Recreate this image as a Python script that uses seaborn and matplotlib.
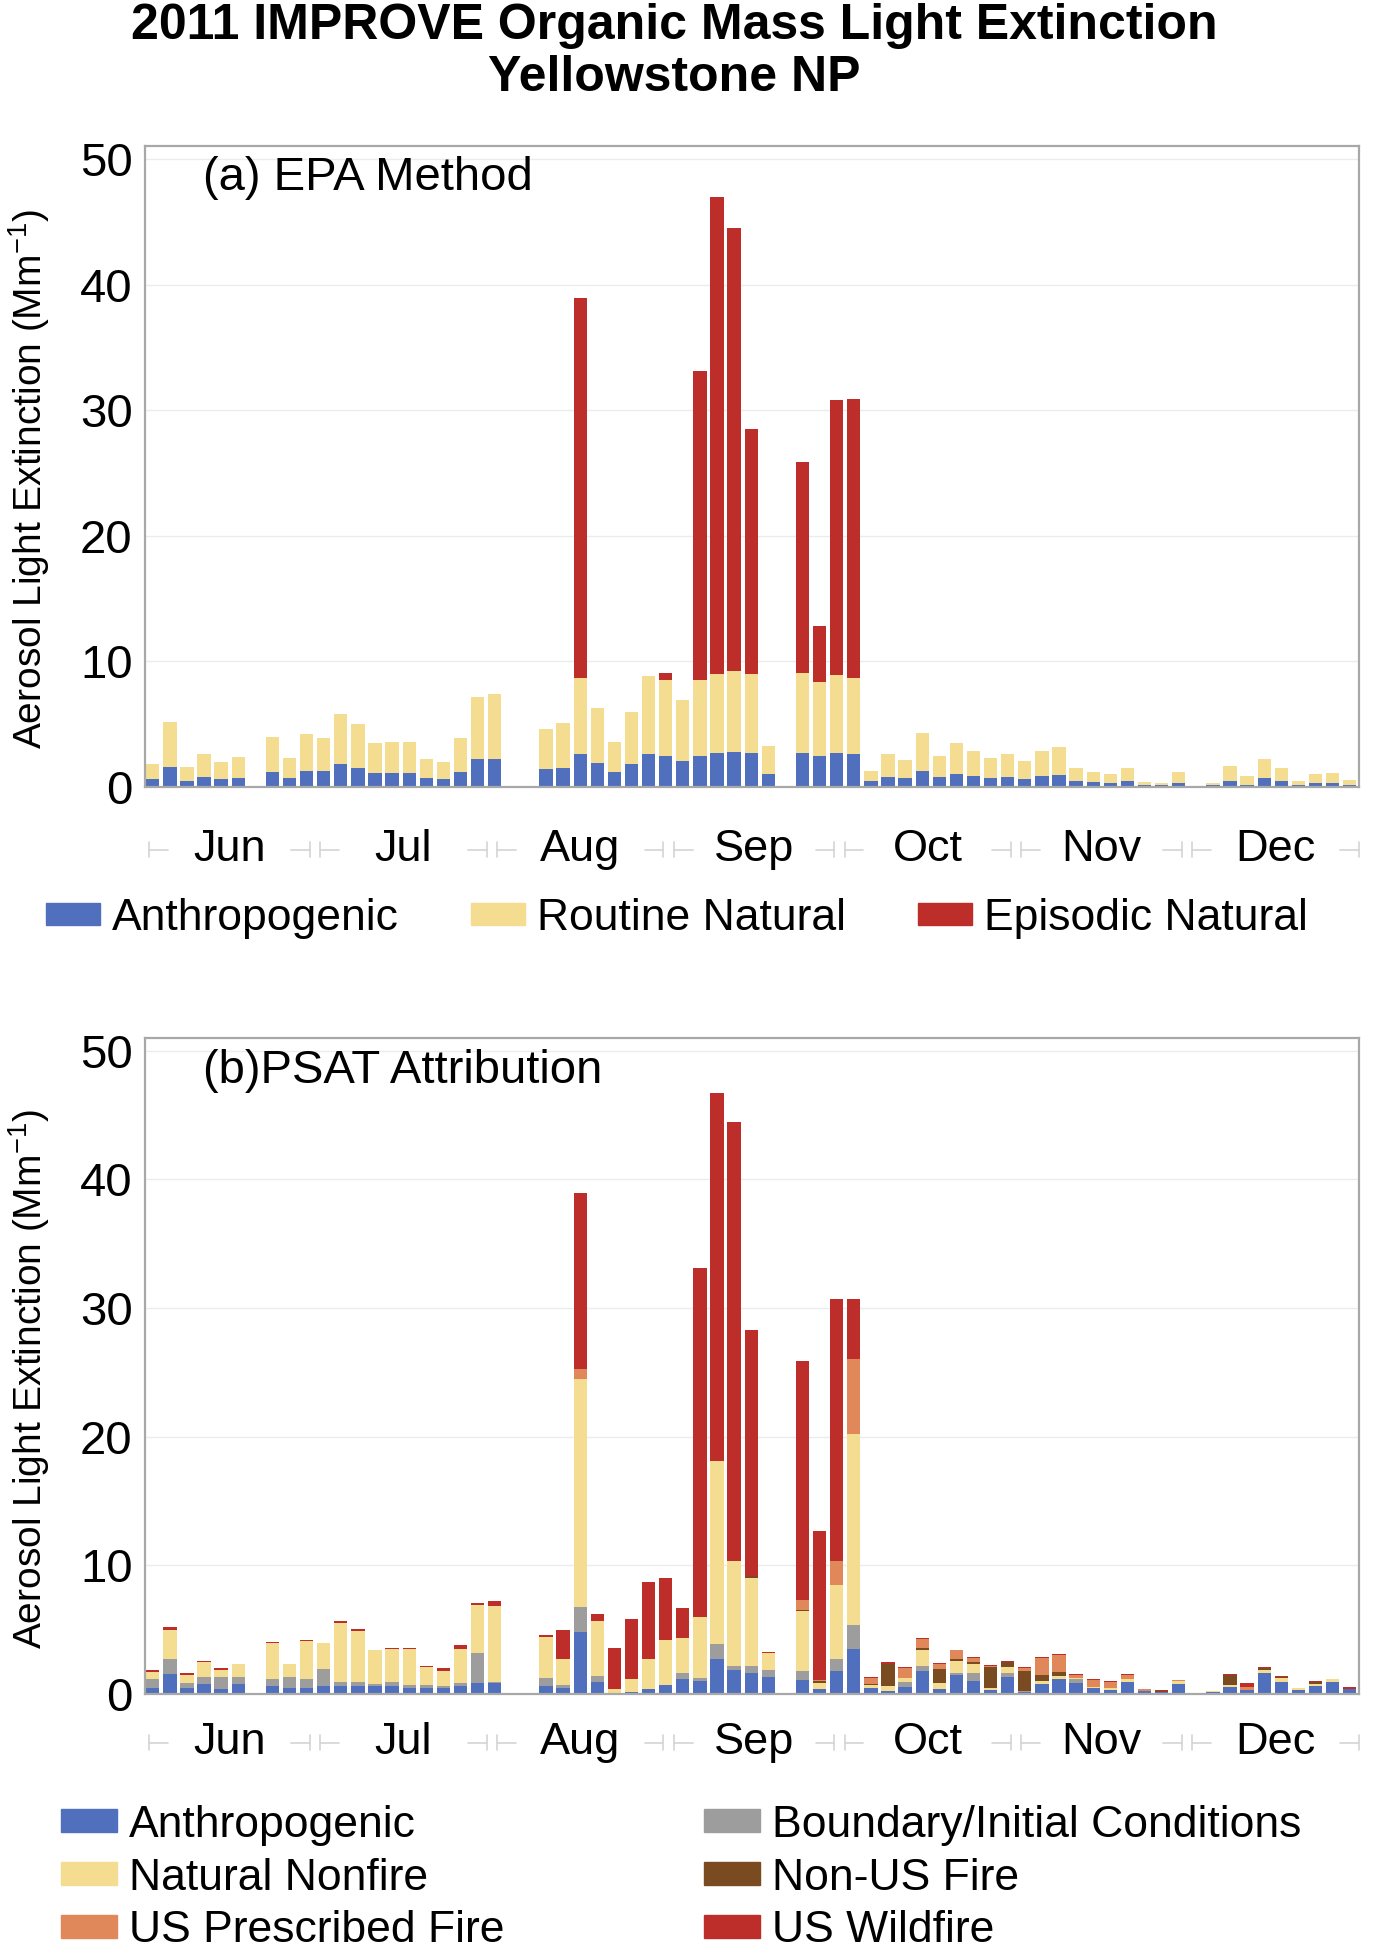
import matplotlib
matplotlib.use("Agg")
import matplotlib.pyplot as plt
import matplotlib.patches as mpatches
import matplotlib.transforms as mtransforms
import pandas as pd
import seaborn as sns

# sample number (every third day from 1 June 2011), gaps = missing samples
sample_slot = [0, 1, 2, 3, 4, 5,
               7, 8, 9, 10, 11, 12, 13, 14, 15, 16, 17, 18, 19, 20,
               23, 24, 25, 26, 27, 28, 29, 30, 31, 32, 33, 34, 35, 36,
               38, 39, 40, 41, 42, 43, 44, 45, 46, 47, 48, 49, 50, 51, 52,
               53, 54, 55, 56, 57, 58, 59, 60,
               62, 63, 64, 65, 66, 67, 68, 69, 70]

months = ["Jun", "Jul", "Aug", "Sep", "Oct", "Nov", "Dec"]
month_days = [30, 31, 31, 30, 31, 30, 31]

# (a) EPA method
epa_anthro = [0.6, 1.6, 0.5, 0.8, 0.6, 0.7,
              1.2, 0.7, 1.3, 1.3, 1.8, 1.5, 1.1, 1.1, 1.1, 0.7, 0.6, 1.2, 2.2, 2.2,
              1.4, 1.5, 2.6, 1.9, 1.2, 1.8, 2.6, 2.5, 2.1, 2.5, 2.7, 2.8, 2.7, 1.0,
              2.7, 2.5, 2.7, 2.6, 0.45, 0.8, 0.7, 1.3, 0.8, 1.0, 0.85, 0.7, 0.8, 0.6, 0.85,
              0.95, 0.5, 0.4, 0.3, 0.5, 0.15, 0.13, 0.3,
              0.15, 0.5, 0.2, 0.7, 0.5, 0.2, 0.3, 0.3, 0.15]
epa_routine = [1.2, 3.6, 1.1, 1.8, 1.4, 1.7,
               2.8, 1.6, 2.9, 2.6, 4.0, 3.5, 2.4, 2.5, 2.5, 1.5, 1.4, 2.7, 5.0, 5.2,
               3.2, 3.6, 6.1, 4.4, 2.4, 4.2, 6.2, 6.0, 4.8, 6.0, 6.3, 6.4, 6.3, 2.3,
               6.4, 5.9, 6.2, 6.1, 0.8, 1.8, 1.45, 3.0, 1.7, 2.5, 2.0, 1.6, 1.85, 1.45, 2.05,
               2.25, 1.05, 0.8, 0.7, 1.0, 0.25, 0.2, 0.9,
               0.2, 1.2, 0.65, 1.5, 1.0, 0.3, 0.7, 0.8, 0.4]
epa_episodic = [0, 0, 0, 0, 0, 0,
                0, 0, 0, 0, 0, 0, 0, 0, 0, 0, 0, 0, 0, 0,
                0, 0, 30.2, 0, 0, 0, 0, 0.6, 0, 24.6, 38.0, 35.3, 19.5, 0,
                16.8, 4.4, 21.9, 22.2, 0, 0, 0, 0, 0, 0, 0, 0, 0, 0, 0,
                0, 0, 0, 0, 0, 0, 0, 0,
                0, 0, 0, 0, 0, 0, 0, 0, 0]

# (b) PSAT attribution
psat_anthro = [0.5, 1.55, 0.5, 0.8, 0.35, 0.8,
               0.63, 0.45, 0.5, 0.63, 0.65, 0.65, 0.65, 0.65, 0.5, 0.5, 0.5, 0.65, 0.85, 0.85,
               0.65, 0.45, 4.8, 0.95, 0.1, 0.15, 0.35, 0.7, 1.2, 1.0, 2.7, 1.85, 1.65, 1.3,
               1.1, 0.35, 1.8, 3.5, 0.47, 0.26, 0.57, 1.82, 0.39, 1.51, 1.04, 0.31, 1.3, 0.13, 0.78,
               1.19, 0.86, 0.44, 0.31, 0.96, 0.21, 0.16, 0.78,
               0.18, 0.52, 0.31, 1.61, 0.91, 0.34, 0.6, 0.96, 0.36]
psat_bic = [0.65, 1.2, 0.35, 0.55, 0.95, 0.5,
            0.5, 0.85, 0.7, 1.3, 0.3, 0.3, 0.1, 0.3, 0.2, 0.2, 0.1, 0.2, 2.3, 0.1,
            0.6, 0.25, 1.95, 0.45, 0, 0, 0, 0, 0.4, 0.25, 1.2, 0.3, 0.5, 0.55,
            0.65, 0, 0.9, 1.85, 0, 0, 0.34, 0.34, 0, 0.15, 0.6, 0, 0.31, 0.07, 0,
            0, 0.28, 0, 0, 0, 0, 0, 0,
            0, 0, 0, 0, 0, 0, 0, 0, 0]
psat_natural = [0.55, 2.25, 0.65, 1.1, 0.6, 1.05,
                2.8, 1.05, 2.9, 2.0, 4.6, 3.95, 2.65, 2.55, 2.8, 1.4, 1.2, 2.65, 3.8, 5.9,
                3.2, 2.0, 17.7, 4.3, 0.25, 1.0, 2.35, 3.5, 2.75, 4.75, 14.2, 8.2, 6.9, 1.35,
                4.7, 0.5, 5.8, 14.9, 0.25, 0.34, 0.31, 1.29, 0.47, 0.94, 0.7, 0.16, 0.52, 0, 0.21,
                0.19, 0.11, 0.13, 0.13, 0.21, 0, 0, 0.21,
                0.08, 0.18, 0, 0.29, 0.31, 0.13, 0.18, 0.21, 0]
psat_nonus = [0, 0, 0, 0, 0, 0,
              0, 0, 0, 0, 0, 0, 0, 0, 0, 0, 0, 0, 0, 0,
              0, 0, 0, 0, 0, 0, 0, 0, 0, 0, 0, 0, 0.15, 0,
              0.1, 0.15, 0, 0, 0.05, 1.74, 0.05, 0.1, 1.09, 0.08, 0.13, 1.61, 0.34, 1.62, 0.52,
              0.31, 0, 0, 0, 0, 0, 0.1, 0,
              0, 0.78, 0, 0.15, 0.13, 0, 0.18, 0, 0]
psat_rx = [0, 0, 0, 0, 0, 0,
           0, 0, 0, 0, 0, 0, 0, 0, 0, 0, 0, 0, 0, 0,
           0, 0, 0.8, 0, 0, 0, 0, 0, 0, 0, 0, 0, 0, 0,
           0.75, 0.1, 1.85, 5.8, 0.45, 0, 0.76, 0.73, 0.39, 0.7, 0.34, 0.12, 0, 0.18, 1.3,
           1.37, 0.26, 0.55, 0.52, 0.31, 0.15, 0, 0.13,
           0, 0, 0.26, 0, 0, 0, 0, 0, 0]
psat_wild = [0.15, 0.17, 0.1, 0.14, 0.14, 0,
             0.1, 0, 0.1, 0, 0.14, 0.14, 0.05, 0.1, 0.1, 0.1, 0.2, 0.3, 0.13, 0.4,
             0.14, 2.3, 13.7, 0.5, 3.25, 4.7, 6.0, 4.85, 2.35, 27.1, 28.6, 34.1, 19.1, 0.1,
             18.55, 11.6, 20.35, 4.65, 0.08, 0.13, 0.05, 0.07, 0.08, 0.07, 0.07, 0.06, 0.13, 0.08, 0.05,
             0.06, 0.05, 0.05, 0.08, 0.05, 0.06, 0.05, 0,
             0, 0.08, 0.26, 0.08, 0.08, 0, 0.08, 0, 0.21]

epa_labels = ["Anthropogenic", "Routine Natural", "Episodic Natural"]
epa_colors = ["#5070bd", "#f4dc90", "#bd2e2a"]
psat_labels = ["Anthropogenic", "Boundary/Initial Conditions", "Natural Nonfire",
               "Non-US Fire", "US Prescribed Fire", "US Wildfire"]
psat_colors = ["#5070bd", "#9d9d9d", "#f4dc90", "#7a4a20", "#e0885a", "#bd2e2a"]


def long_df(series, labels):
    frames = []
    for vals, lab in zip(series, labels):
        frames.append(pd.DataFrame({"slot": sample_slot, "value": vals, "source": lab}))
    return pd.concat(frames, ignore_index=True)


def draw_panel(ax, df, labels, colors, tag, month_y):
    # seaborn stacks the first hue level on top, so feed it reversed
    sns.histplot(data=df, x="slot", weights="value", hue="source",
                 hue_order=labels[::-1], palette=dict(zip(labels, colors)),
                 multiple="stack", discrete=True, shrink=0.78, binrange=(0, 70),
                 linewidth=0, alpha=1, legend=False, ax=ax)
    ax.set_xlim(-0.45, 70.55)
    ax.set_ylim(0, 51)
    ax.set_yticks([0, 10, 20, 30, 40, 50])
    ax.set_xticks([])
    ax.set_xlabel("")
    ax.set_ylabel("Aerosol Light Extinction (Mm$^{-1}$)", fontsize=28)
    ax.yaxis.set_label_coords(-0.077, 0.48)
    ax.tick_params(axis="y", length=6, width=1.2, color="#a8a8a8", labelsize=34, pad=3)
    ax.grid(axis="y", color="#ececec", linewidth=1)
    ax.set_axisbelow(True)
    for sp in ax.spines.values():
        sp.set_visible(True)
        sp.set_color("#a8a8a8")
        sp.set_linewidth(1.6)
    ax.text(0.048, 0.95, tag, transform=ax.transAxes, fontsize=34, va="center", ha="left")

    # month labels with faint bracket marks
    trans = mtransforms.blended_transform_factory(ax.transData, ax.transAxes)
    start = -0.5
    for m, nd in zip(months, month_days):
        end = start + nd / 3
        mid = (start + end) / 2
        ax.text(mid, month_y, m, transform=trans, fontsize=32.5, ha="center", va="center")
        for x0, x1 in [(start + 0.3, start + 1.4), (end - 1.4, end - 0.3)]:
            ax.plot([x0, x1], [month_y, month_y], transform=trans, color="#d4d4d4",
                    lw=1.2, clip_on=False)
        for xt in [start + 0.3, end - 0.3]:
            ax.plot([xt, xt], [month_y - 0.012, month_y + 0.012], transform=trans,
                    color="#d4d4d4", lw=1.2, clip_on=False)
        start = end


sns.set_theme(style="white")
plt.rcParams["font.family"] = ["Liberation Sans", "DejaVu Sans"]
plt.rcParams["mathtext.fontset"] = "custom"
plt.rcParams["mathtext.rm"] = "Liberation Sans"
plt.rcParams["mathtext.it"] = "Liberation Sans"
plt.rcParams["mathtext.default"] = "regular"
for key in ["text.color", "axes.labelcolor", "xtick.labelcolor", "ytick.labelcolor"]:
    plt.rcParams[key] = "black"

fig = plt.figure(figsize=(13.84, 19.5), dpi=100)
ax_a = fig.add_axes([0.1048, 0.5964, 0.8772, 0.3285])
ax_b = fig.add_axes([0.1048, 0.1313, 0.8772, 0.3364])

df_a = long_df([epa_anthro, epa_routine, epa_episodic], epa_labels)
df_b = long_df([psat_anthro, psat_bic, psat_natural, psat_nonus, psat_rx, psat_wild], psat_labels)

draw_panel(ax_a, df_a, epa_labels, epa_colors, "(a) EPA Method", -0.098)
draw_panel(ax_b, df_b, psat_labels, psat_colors, "(b)PSAT Attribution", -0.074)

fig.text(0.4875, 1 - 26 / 1950, "2011 IMPROVE Organic Mass Light Extinction",
         fontsize=36, fontweight="bold", ha="center", va="center")
fig.text(0.4875, 1 - 78 / 1950, "Yellowstone NP",
         fontsize=36, fontweight="bold", ha="center", va="center")

# legends
h_a = [mpatches.Patch(color=c) for c in epa_colors]
fig.legend(h_a, epa_labels, loc="center left", bbox_to_anchor=(0.0332, 1 - 918 / 1950),
           ncol=3, frameon=False, fontsize=32, handlelength=1.22, handleheight=0.38,
           handletextpad=0.27, columnspacing=1.62, borderpad=0, borderaxespad=0)

order = [0, 2, 4, 1, 3, 5]
h_b = [mpatches.Patch(color=psat_colors[i]) for i in order]
fig.legend(h_b, [psat_labels[i] for i in order], loc="center left",
           bbox_to_anchor=(0.0441, 1 - 1878 / 1950), ncol=2, frameon=False, fontsize=32,
           handlelength=1.25, handleheight=0.4, handletextpad=0.27, columnspacing=4.5,
           labelspacing=0.27, borderpad=0, borderaxespad=0)

fig.savefig("out.png", dpi=100)
